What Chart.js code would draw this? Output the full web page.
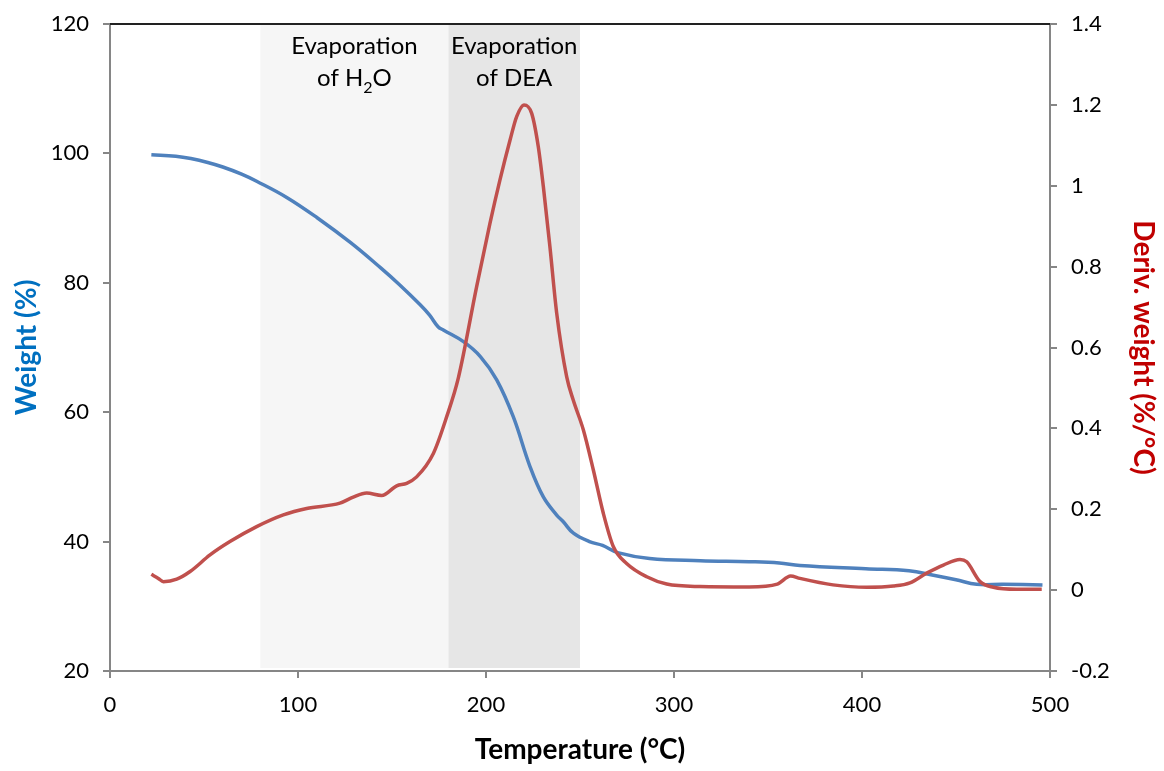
<!DOCTYPE html>
<html>
<head>
<meta charset="utf-8">
<script src="https://cdn.jsdelivr.net/npm/chart.js@4"></script>
<style>
  html, body { margin: 0; padding: 0; background: #fff; }
  #wrap { width: 1164px; height: 771px; position: relative; }
</style>
</head>
<body>
<div id="wrap"><canvas id="tga"></canvas></div>
<script>
// Weight curve (left axis)
const weightTemp = [22, 35, 43, 52, 60, 70, 78, 94, 110, 128, 144, 154, 165, 170, 174.5, 177.3, 188, 197, 205.7, 214.5, 223.4, 230.5, 237.6, 241, 246.5, 255, 262, 270, 287, 314, 340, 356, 367, 402, 425, 438, 450, 461, 475, 496];
const weightPct = [99.8, 99.55, 99.2, 98.6, 97.9, 96.8, 95.7, 93.2, 90.1, 86.2, 82.3, 79.7, 76.6, 75.0, 73.2, 72.7, 70.9, 68.6, 65.0, 59.3, 51.6, 46.9, 44.1, 43.1, 41.3, 40.0, 39.4, 38.3, 37.4, 37.05, 36.9, 36.7, 36.3, 35.8, 35.5, 34.8, 34.1, 33.4, 33.4, 33.3];

// Derivative curve (right axis)
const derivTemp = [22, 25.7, 28.4, 35.5, 42.6, 53.2, 63.8, 78, 92.2, 104.6, 122.3, 129.4, 136.5, 144.5, 152.5, 157.8, 163.1, 172, 179.1, 185.3, 195, 202.1, 207.4, 212.8, 216.3, 220.2, 224.3, 227.8, 230.5, 234, 237.6, 242.9, 246.4, 251.8, 257.1, 262.4, 267.7, 274.8, 285.5, 296.1, 313.8, 340, 355, 362, 367, 384.6, 402.5, 416.7, 425.5, 434.4, 443.3, 452.1, 455.7, 462.8, 469.9, 482.3, 495.6];
const derivVal = [0.039, 0.029, 0.021, 0.027, 0.046, 0.087, 0.12, 0.157, 0.186, 0.202, 0.215, 0.23, 0.24, 0.234, 0.258, 0.264, 0.28, 0.338, 0.429, 0.525, 0.75, 0.907, 1.014, 1.113, 1.171, 1.2, 1.179, 1.097, 0.998, 0.849, 0.685, 0.528, 0.47, 0.396, 0.297, 0.19, 0.108, 0.066, 0.033, 0.015, 0.009, 0.008, 0.015, 0.035, 0.029, 0.013, 0.007, 0.01, 0.018, 0.042, 0.062, 0.076, 0.07, 0.021, 0.007, 0.002, 0.002];

// Shaded temperature bands and their labels
const bandStart = [80, 180];
const bandEnd = [180, 250];
const bandColors = ["#f6f6f6", "#e6e6e6"];
const bandLine1 = ["Evaporation", "Evaporation"];
const bandLine2 = [["of H", "2", "O"], ["of DEA"]];

const xTicksMin = 0, xTicksMax = 500, xStep = 100;
const leftMin = 20, leftMax = 120, leftStep = 20;
const rightMin = -0.2, rightMax = 1.4, rightStep = 0.2;

const FONT = "Lato, 'Open Sans', sans-serif";

const zip = (xs, ys) => xs.map((x, i) => ({ x: x, y: ys[i] }));

// draws the grey bands behind the curves, the top border and the band labels
const bandsPlugin = {
  id: "bands",
  beforeDatasetsDraw(chart) {
    const { ctx, chartArea, scales } = chart;
    ctx.save();
    bandStart.forEach((s, i) => {
      const x0 = scales.x.getPixelForValue(s);
      const x1 = scales.x.getPixelForValue(bandEnd[i]);
      ctx.fillStyle = bandColors[i];
      ctx.fillRect(x0, chartArea.top, x1 - x0, chartArea.bottom - chartArea.top - 3);
    });
    ctx.restore();
  },
  afterDraw(chart) {
    const { ctx, chartArea, scales } = chart;
    ctx.save();
    ctx.strokeStyle = "#222";
    ctx.lineWidth = 2;
    ctx.beginPath();
    ctx.moveTo(chartArea.left, chartArea.top);
    ctx.lineTo(chartArea.right, chartArea.top);
    ctx.stroke();

    const big = "24px " + FONT;
    const small = "16px " + FONT;
    ctx.fillStyle = "#000";
    ctx.textBaseline = "middle";
    bandStart.forEach((s, i) => {
      const cx = (scales.x.getPixelForValue(s) + scales.x.getPixelForValue(bandEnd[i])) / 2;
      ctx.font = big;
      ctx.textAlign = "center";
      ctx.fillText(bandLine1[i], cx, chartArea.top + 22);
      const parts = bandLine2[i];
      if (parts.length === 1) {
        ctx.fillText(parts[0], cx, chartArea.top + 54);
      } else {
        const w0 = ctx.measureText(parts[0]).width;
        const w2 = ctx.measureText(parts[2]).width;
        ctx.font = small;
        const w1 = ctx.measureText(parts[1]).width;
        let x = cx - (w0 + w1 + w2) / 2;
        ctx.textAlign = "left";
        ctx.font = big;
        ctx.fillText(parts[0], x, chartArea.top + 54);
        x += w0;
        ctx.font = small;
        ctx.fillText(parts[1], x, chartArea.top + 64);
        x += w1;
        ctx.font = big;
        ctx.fillText(parts[2], x, chartArea.top + 54);
      }
    });
    ctx.restore();
  },
};

const axisGrid = {
  display: true,
  drawOnChartArea: false,
  drawTicks: true,
  tickLength: 7,
  color: "#868686",
  lineWidth: 2,
};
const axisBorder = { display: true, color: "#868686", width: 2 };
const tickFont = { family: FONT, size: 22 };
const titleFont = { family: FONT, size: 28, weight: "bold" };

// fixed axis sizes so the plot area lands where the original one is
const fitY = (w) => (s) => {
  s.width = w;
  s.paddingTop = 0;
  s.paddingBottom = 0;
};

new Chart(document.getElementById("tga"), {
  type: "line",
  data: {
    datasets: [
      {
        label: "Weight",
        data: zip(weightTemp, weightPct),
        yAxisID: "y",
        borderColor: "#4f81bd",
        borderWidth: 3.5,
        pointRadius: 0,
        tension: 0.4,
        order: 1,
      },
      {
        label: "Deriv. weight",
        data: zip(derivTemp, derivVal),
        yAxisID: "y1",
        borderColor: "#c0504d",
        borderWidth: 3.5,
        pointRadius: 0,
        cubicInterpolationMode: "monotone",
        order: 0,
      },
    ],
  },
  options: {
    responsive: true,
    maintainAspectRatio: false,
    animation: false,
    layout: { padding: { top: 24, left: 6, right: 0, bottom: 0 } },
    plugins: { legend: { display: false }, tooltip: { enabled: false } },
    scales: {
      x: {
        type: "linear",
        min: xTicksMin,
        max: xTicksMax,
        ticks: { stepSize: xStep, color: "#000", font: tickFont, padding: 14 },
        grid: axisGrid,
        border: axisBorder,
        title: {
          display: true,
          text: "Temperature (°C)",
          color: "#000",
          font: titleFont,
          padding: { top: 6 },
        },
        afterFit: (s) => { s.height = 100; },
      },
      y: {
        position: "left",
        min: leftMin,
        max: leftMax,
        ticks: { stepSize: leftStep, color: "#000", font: tickFont, padding: 14 },
        grid: axisGrid,
        border: axisBorder,
        title: {
          display: true,
          text: "Weight (%)",
          color: "#0070c0",
          font: titleFont,
          padding: { bottom: 0 },
        },
        afterFit: fitY(104),
      },
      y1: {
        position: "right",
        min: rightMin,
        max: rightMax,
        ticks: {
          stepSize: rightStep,
          color: "#000",
          font: tickFont,
          padding: 14,
          callback: (v) => parseFloat(v.toFixed(1)).toString(),
        },
        grid: axisGrid,
        border: axisBorder,
        title: {
          display: true,
          text: "Deriv. weight (%/°C)",
          color: "#c00000",
          font: titleFont,
        },
        afterFit: fitY(114),
      },
    },
  },
  plugins: [bandsPlugin],
});
</script>
</body>
</html>
